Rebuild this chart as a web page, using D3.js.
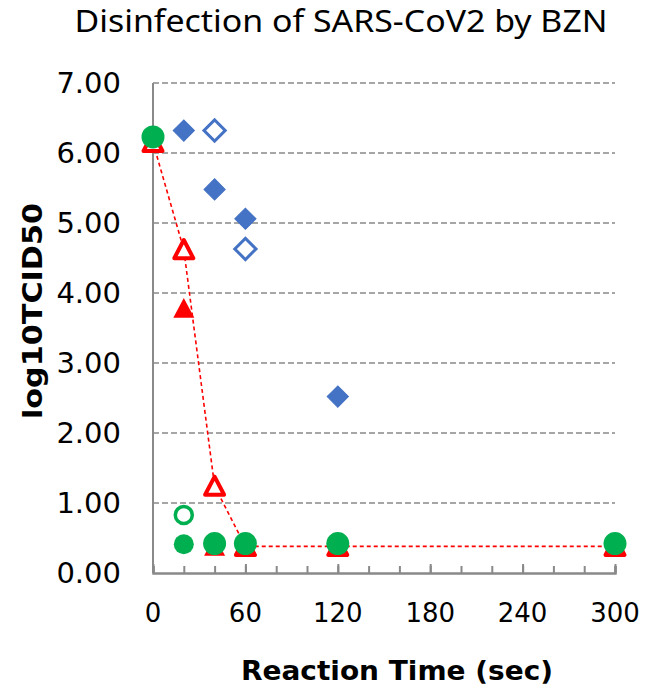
<!DOCTYPE html>
<html>
<head>
<meta charset="utf-8">
<script src="https://cdn.jsdelivr.net/npm/d3@7"></script>
<style>
  html, body { margin: 0; padding: 0; background: #fff; }
  svg { display: block; }
</style>
</head>
<body>
<svg id="chart" width="646" height="689"></svg>
<script>
// ---- data ----
const times = [0, 20, 40, 60, 120, 300];
const blueFilled = [null, 6.32, 5.48, 5.06, 2.52, null];
const blueOpen = [null, null, 6.32, 4.63, null, null];
const redOpen = [6.15, 4.62, 1.24, 0.38, 0.38, 0.38];
const redFilled = [6.15, 3.78, 0.38, 0.38, 0.38, 0.38];
const greenFilled = [6.23, null, 0.42, 0.42, 0.42, 0.42];
const greenSmall = [null, 0.41, null, null, null, null];
const greenOpen = [null, 0.83, null, null, null, null];
const xTicks = [0, 60, 120, 180, 240, 300];
const yTicks = [0, 1, 2, 3, 4, 5, 6, 7];

const title = "Disinfection of SARS-CoV2 by BZN";
const xTitle = "Reaction Time (sec)";
const yTitle = "log10TCID50";

// ---- layout ----
const svg = d3.select("#chart");
const x = d3.scaleLinear().domain([0, 300]).range([153, 615]);
const y = d3.scaleLinear().domain([0, 7]).range([573, 83]);

const FONT = "'DejaVu Sans', Verdana, sans-serif";
const TFONT = "'Noto Sans', 'Open Sans', sans-serif";
const grey = "#898989";

// gridlines
svg.append("g").selectAll("line").data(yTicks.filter(d => d > 0)).join("line")
  .attr("x1", x(0)).attr("x2", x(300))
  .attr("y1", d => y(d)).attr("y2", d => y(d))
  .attr("stroke", grey).attr("stroke-width", 1.5)
  .attr("stroke-dasharray", "6,3");

// y axis line
svg.append("line").attr("x1", x(0)).attr("x2", x(0)).attr("y1", y(7)).attr("y2", y(0))
  .attr("stroke", grey).attr("stroke-width", 2);

// x axis (ticks pointing inward)
const xAxisMinor = d3.axisTop(x).tickValues(d3.range(0, 301, 20)).tickSize(7).tickFormat("");
const gxm = svg.append("g").attr("transform", `translate(0,${y(0)})`).call(xAxisMinor);
gxm.select(".domain").attr("stroke", grey).attr("stroke-width", 2.5);
gxm.selectAll(".tick line").attr("stroke", grey).attr("stroke-width", 2);
const xAxisMajor = d3.axisTop(x).tickValues(xTicks).tickSize(9).tickFormat("");
const gxM = svg.append("g").attr("transform", `translate(0,${y(0)})`).call(xAxisMajor);
gxM.select(".domain").remove();
gxM.selectAll(".tick line").attr("stroke", grey).attr("stroke-width", 2);

// x tick labels
svg.append("g").selectAll("text").data(xTicks).join("text")
  .attr("x", d => x(d)).attr("y", 622)
  .attr("text-anchor", "middle")
  .attr("font-family", FONT).attr("font-size", 26).attr("fill", "#000")
  .text(d => d);

// y tick labels
svg.append("g").selectAll("text").data(yTicks).join("text")
  .attr("x", 121).attr("y", d => y(d))
  .attr("dy", "0.36em")
  .attr("text-anchor", "end")
  .attr("font-family", FONT).attr("font-size", 29).attr("fill", "#000")
  .text(d => d.toFixed(2));

// title
svg.append("text").attr("x", 341).attr("y", 32).attr("text-anchor", "middle")
  .attr("font-family", TFONT).attr("font-size", 31).attr("fill", "#000")
  .attr("textLength", 533).attr("lengthAdjust", "spacingAndGlyphs")
  .text(title);

// axis titles
svg.append("text").attr("x", 397).attr("y", 680).attr("text-anchor", "middle")
  .attr("font-family", FONT).attr("font-weight", "bold").attr("font-size", 27).attr("fill", "#000")
  .attr("textLength", 312).attr("lengthAdjust", "spacingAndGlyphs")
  .text(xTitle);
svg.append("text").attr("transform", "translate(42,311) rotate(-90)").attr("text-anchor", "middle")
  .attr("font-family", FONT).attr("font-weight", "bold").attr("font-size", 27).attr("fill", "#000")
  .attr("textLength", 216).attr("lengthAdjust", "spacingAndGlyphs")
  .text(yTitle);

// helpers
const pts = arr => times.map((t, i) => ({t, v: arr[i]})).filter(d => d.v != null);
function drawDiamonds(arr, filled) {
  svg.append("g").selectAll("rect").data(pts(arr)).join("rect")
    .attr("x", -7.5).attr("y", -7.5).attr("width", 15).attr("height", 15)
    .attr("transform", d => `translate(${x(d.t)},${y(d.v)}) rotate(45)`)
    .attr("fill", filled ? "#4472C4" : "#fff")
    .attr("stroke", "#4472C4").attr("stroke-width", filled ? 1 : 3);
}
function triPath(cx, cy, s) {
  const h = s * 0.9;
  return `M${cx},${cy - h / 2 - 1}L${cx + s / 2},${cy + h / 2}L${cx - s / 2},${cy + h / 2}Z`;
}

// blue diamonds
drawDiamonds(blueFilled, true);
drawDiamonds(blueOpen, false);

// red filled triangles
svg.append("g").selectAll("path").data(pts(redFilled)).join("path")
  .attr("d", d => triPath(x(d.t), y(d.v), 21))
  .attr("fill", "#FF0000");

// red dashed line + open triangles
svg.append("path").datum(pts(redOpen))
  .attr("d", d3.line().x(d => x(d.t)).y(d => y(d.v)))
  .attr("fill", "none").attr("stroke", "#FF0000").attr("stroke-width", 1.6)
  .attr("stroke-dasharray", "4,3");
svg.append("g").selectAll("path").data(pts(redOpen)).join("path")
  .attr("d", d => triPath(x(d.t), y(d.v), 19))
  .attr("fill", "#fff").attr("stroke", "#FF0000").attr("stroke-width", 4)
  .attr("stroke-linejoin", "round");

// green circles
svg.append("g").selectAll("circle").data(pts(greenOpen)).join("circle")
  .attr("cx", d => x(d.t)).attr("cy", d => y(d.v)).attr("r", 8.5)
  .attr("fill", "#fff").attr("stroke", "#00B050").attr("stroke-width", 3.5);
svg.append("g").selectAll("circle").data(pts(greenSmall)).join("circle")
  .attr("cx", d => x(d.t)).attr("cy", d => y(d.v)).attr("r", 10)
  .attr("fill", "#00B050");
svg.append("g").selectAll("circle").data(pts(greenFilled)).join("circle")
  .attr("cx", d => x(d.t)).attr("cy", d => y(d.v)).attr("r", 11.5)
  .attr("fill", "#00B050");
</script>
</body>
</html>
